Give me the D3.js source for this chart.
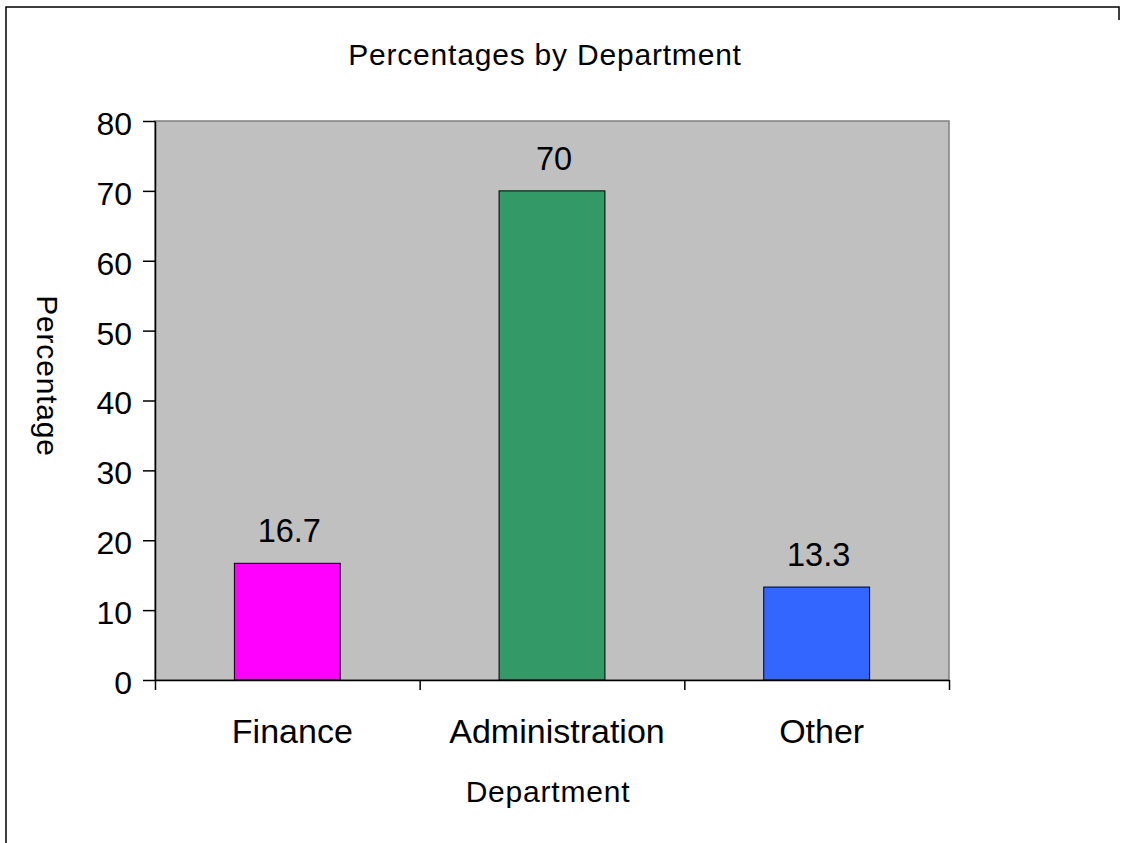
<!DOCTYPE html>
<html>
<head>
<meta charset="utf-8">
<script src="https://cdn.jsdelivr.net/npm/d3@7"></script>
<style>
  html, body { margin: 0; padding: 0; background: #fff; }
  svg { display: block; font-family: "Liberation Sans", Arial, sans-serif; }
</style>
</head>
<body>
<svg id="chart" width="1125" height="843"></svg>
<script>
// Department shares (percent)
const categories = ["Finance", "Administration", "Other"];
const percentages = [16.7, 70, 13.3];
const barColors = ["#FF00FF", "#339966", "#3366FF"];
const yTicks = [0, 10, 20, 30, 40, 50, 60, 70, 80];

const svg = d3.select("#chart");
const plot = { left: 155, top: 121, right: 949, bottom: 680 };

// Chart frame: left edge runs the full height, right edge is cut short
svg.append("path")
  .attr("d", "M6,843 L6,7 L1119,7 L1119,20")
  .attr("fill", "none").attr("stroke", "#000").attr("stroke-width", 1.5);

const x = d3.scaleBand()
  .domain(categories)
  .range([plot.left, plot.right])
  .paddingInner(0.6)
  .paddingOuter(0.3);

const xEdges = d3.scaleLinear().domain([0, categories.length]).range([plot.left, plot.right]);

const y = d3.scaleLinear().domain([0, 80]).range([plot.bottom, plot.top]);

// Plot area
svg.append("rect")
  .attr("x", plot.left).attr("y", plot.top)
  .attr("width", plot.right - plot.left).attr("height", plot.bottom - plot.top)
  .attr("fill", "#C0C0C0").attr("stroke", "#808080").attr("stroke-width", 1.5);

// Bars
svg.append("g").selectAll("rect")
  .data(categories)
  .join("rect")
  .attr("x", d => x(d))
  .attr("y", (d, i) => y(percentages[i]))
  .attr("width", x.bandwidth())
  .attr("height", (d, i) => y(0) - y(percentages[i]))
  .attr("fill", (d, i) => barColors[i])
  .attr("stroke", "#000").attr("stroke-width", 1);

// Value labels
svg.append("g").selectAll("text")
  .data(categories)
  .join("text")
  .attr("x", d => x(d) + x.bandwidth() / 2 + 2)
  .attr("y", (d, i) => y(percentages[i]) - 21)
  .attr("text-anchor", "middle")
  .attr("font-size", 32.5)
  .attr("fill", "#000")
  .text((d, i) => String(percentages[i]));

// Y axis
const yAxis = svg.append("g")
  .attr("transform", `translate(${plot.left},0)`)
  .call(d3.axisLeft(y).tickValues(yTicks).tickSize(12).tickPadding(11).tickSizeOuter(0));
yAxis.select(".domain").attr("stroke", "#000").attr("stroke-width", 1.5);
yAxis.selectAll(".tick line").attr("stroke", "#000").attr("stroke-width", 1.5);
yAxis.selectAll(".tick text")
  .attr("font-size", 32).attr("fill", "#000")
  .attr("font-family", "'Liberation Sans', Arial, sans-serif")
  .attr("dy", "0.42em");

// X axis: tick marks at category boundaries
const xAxis = svg.append("g")
  .attr("transform", `translate(0,${plot.bottom})`)
  .call(d3.axisBottom(xEdges).tickValues(d3.range(categories.length + 1)).tickSize(10).tickFormat("").tickSizeOuter(0));
xAxis.select(".domain").attr("stroke", "#000").attr("stroke-width", 1.5);
xAxis.selectAll(".tick line").attr("stroke", "#000").attr("stroke-width", 1.5);

// Category labels
svg.append("g").selectAll("text")
  .data(categories)
  .join("text")
  .attr("x", d => x(d) + x.bandwidth() / 2 + 5)
  .attr("y", 743)
  .attr("text-anchor", "middle")
  .attr("font-size", 34)
  .attr("fill", "#000")
  .text(d => d);

// Titles
svg.append("text")
  .attr("x", 545).attr("y", 65)
  .attr("text-anchor", "middle")
  .attr("font-size", 30).attr("letter-spacing", 0.8)
  .text("Percentages by Department");

svg.append("text")
  .attr("x", 548).attr("y", 802)
  .attr("text-anchor", "middle")
  .attr("font-size", 30).attr("letter-spacing", 0.8)
  .text("Department");

svg.append("text")
  .attr("transform", "translate(37,376) rotate(90)")
  .attr("text-anchor", "middle")
  .attr("font-size", 30).attr("letter-spacing", 0.8)
  .text("Percentage");
</script>
</body>
</html>
